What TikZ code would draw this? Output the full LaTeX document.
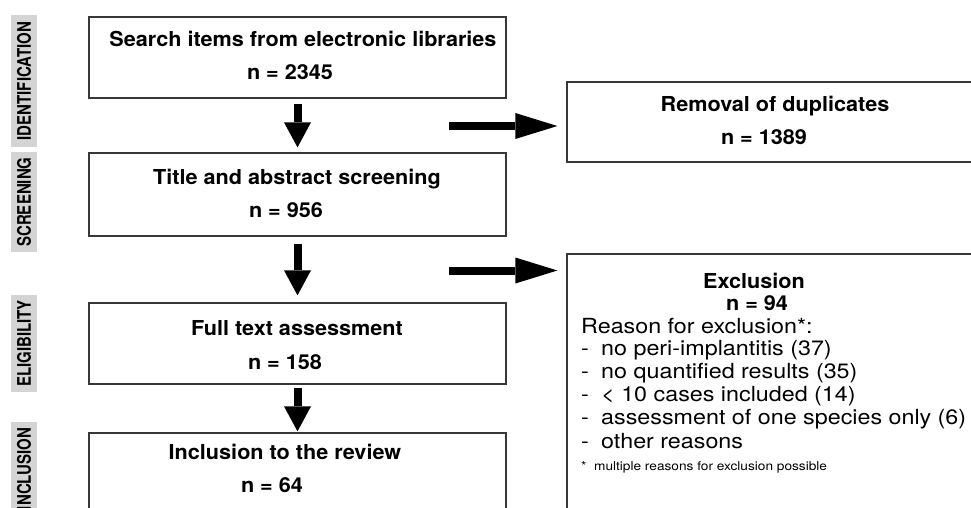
\documentclass[tikz,border=0pt]{standalone}
\usepackage{fontspec}
\setmainfont{TeX Gyre Heros}
\newfontfamily\boldf[FakeStretch=1.05]{TeX Gyre Heros}
\newfontfamily\regf[FakeStretch=1.12]{TeX Gyre Heros}
\usetikzlibrary{arrows.meta}
\definecolor{labgray}{RGB}{212,212,212}
\definecolor{boxline}{RGB}{55,55,55}
\tikzset{
  box/.style={draw=boxline, line width=1.3pt, fill=white, inner sep=0pt},
  bt/.style={font=\boldf\fontsize{20.6}{24}\selectfont\bfseries, inner sep=0pt, anchor=base},
  rt/.style={font=\regf\fontsize{20.8}{22}\selectfont, inner sep=0pt, anchor=base west},
  ft/.style={font=\regf\fontsize{12.2}{14}\selectfont, inner sep=0pt, anchor=base west},
  lab/.style={fill=labgray, inner sep=0pt, rotate=90, minimum height=26pt,
    font=\fontsize{15}{17}\selectfont\bfseries},
  darrow/.style={line width=8pt, -{Triangle[length=25pt,width=27pt,line width=0pt]}},
  rarrow/.style={line width=8pt, -{Triangle[length=42pt,width=26pt,line width=0pt]}},
}
\begin{document}
\begin{tikzpicture}[x=1pt,y=-1pt]
\useasboundingbox (0,0) rectangle (971,507);
% side labels
\node[lab, minimum width=132pt] (lid) at (24,81) {\scalebox{1}[1.25]{IDENTIFICATION}};
\node[lab, minimum width=100pt] (lsc) at (24,202) {\scalebox{1}[1.25]{SCREENING}};
\node[lab, minimum width=97pt] (lel) at (24,343.5) {\scalebox{1}[1.25]{ELIGIBILITY}};
\node[lab, minimum width=94pt] (lin) at (24,469) {\scalebox{1}[1.25]{INCLUSION}};
% left boxes
\node[box, minimum width=417pt, minimum height=81pt] (b1) at (297.5,57.5) {};
\node[box, minimum width=417pt, minimum height=83pt] (b2) at (297.5,194.5) {};
\node[box, minimum width=417pt, minimum height=81pt] (b3) at (297.5,343.5) {};
\node[box, minimum width=417pt, minimum height=87pt] (b4) at (297.5,476.5) {};
% right boxes
\node[box, minimum width=413pt, minimum height=80pt] (rem) at (773.5,122) {};
\node[box, minimum width=413pt, minimum height=266pt] (exc) at (773.5,387) {};
% texts
\node[bt] (t1a) at (303,46.5) {Search items from electronic libraries};
\node[bt] (t1b) at (290,79.5) {n = 2345};
\node[bt] (t2a) at (297,184.5) {Title and abstract screening};
\node[bt] (t2b) at (286,217.5) {n = 956};
\node[bt] (t3a) at (297,335.5) {Full text assessment};
\node[bt] (t3b) at (285,369.5) {n = 158};
\node[bt] (t4a) at (285,459.5) {Inclusion to the review};
\node[bt] (t4b) at (272,492.5) {n = 64};
\node[bt] (tra) at (775,111.5) {Removal of duplicates};
\node[bt] (trb) at (764,144.5) {n = 1389};
\node[bt] (tea) at (754,288) {Exclusion};
\node[bt] (teb) at (757,310) {n = 94};
\node[rt] (r0) at (581,333) {Reason for exclusion*:};
\node[rt] (r1) at (581,355.5) {\makebox[20pt][l]{-}no peri-implantitis (37)};
\node[rt] (r2) at (581,378.5) {\makebox[20pt][l]{-}no quantified results (35)};
\node[rt] (r3) at (581,401.5) {\makebox[20pt][l]{-}< 10 cases included (14)};
\node[rt] (r4) at (581,424.5) {\makebox[20pt][l]{-}assessment of one species only (6)};
\node[rt] (r5) at (581,448) {\makebox[20pt][l]{-}other reasons};
\node[ft] (fn) at (581,470.5) {*\ \ multiple reasons for exclusion possible};
% arrows
\draw[darrow, shorten <=5pt, shorten >=5pt] (b1) -- (b2);
\draw[darrow, shorten <=7pt, shorten >=7pt] (b2) -- (b3);
\draw[darrow, shorten <=3pt, shorten >=1pt] (b3) -- (b4);
\coordinate (ra) at (449,126);
\coordinate (rb) at (449,270.5);
\draw[rarrow, shorten >=9pt] (ra) -- (ra -| rem.west);
\draw[rarrow, shorten >=9pt] (rb) -- (rb -| exc.west);
\end{tikzpicture}
\end{document}
